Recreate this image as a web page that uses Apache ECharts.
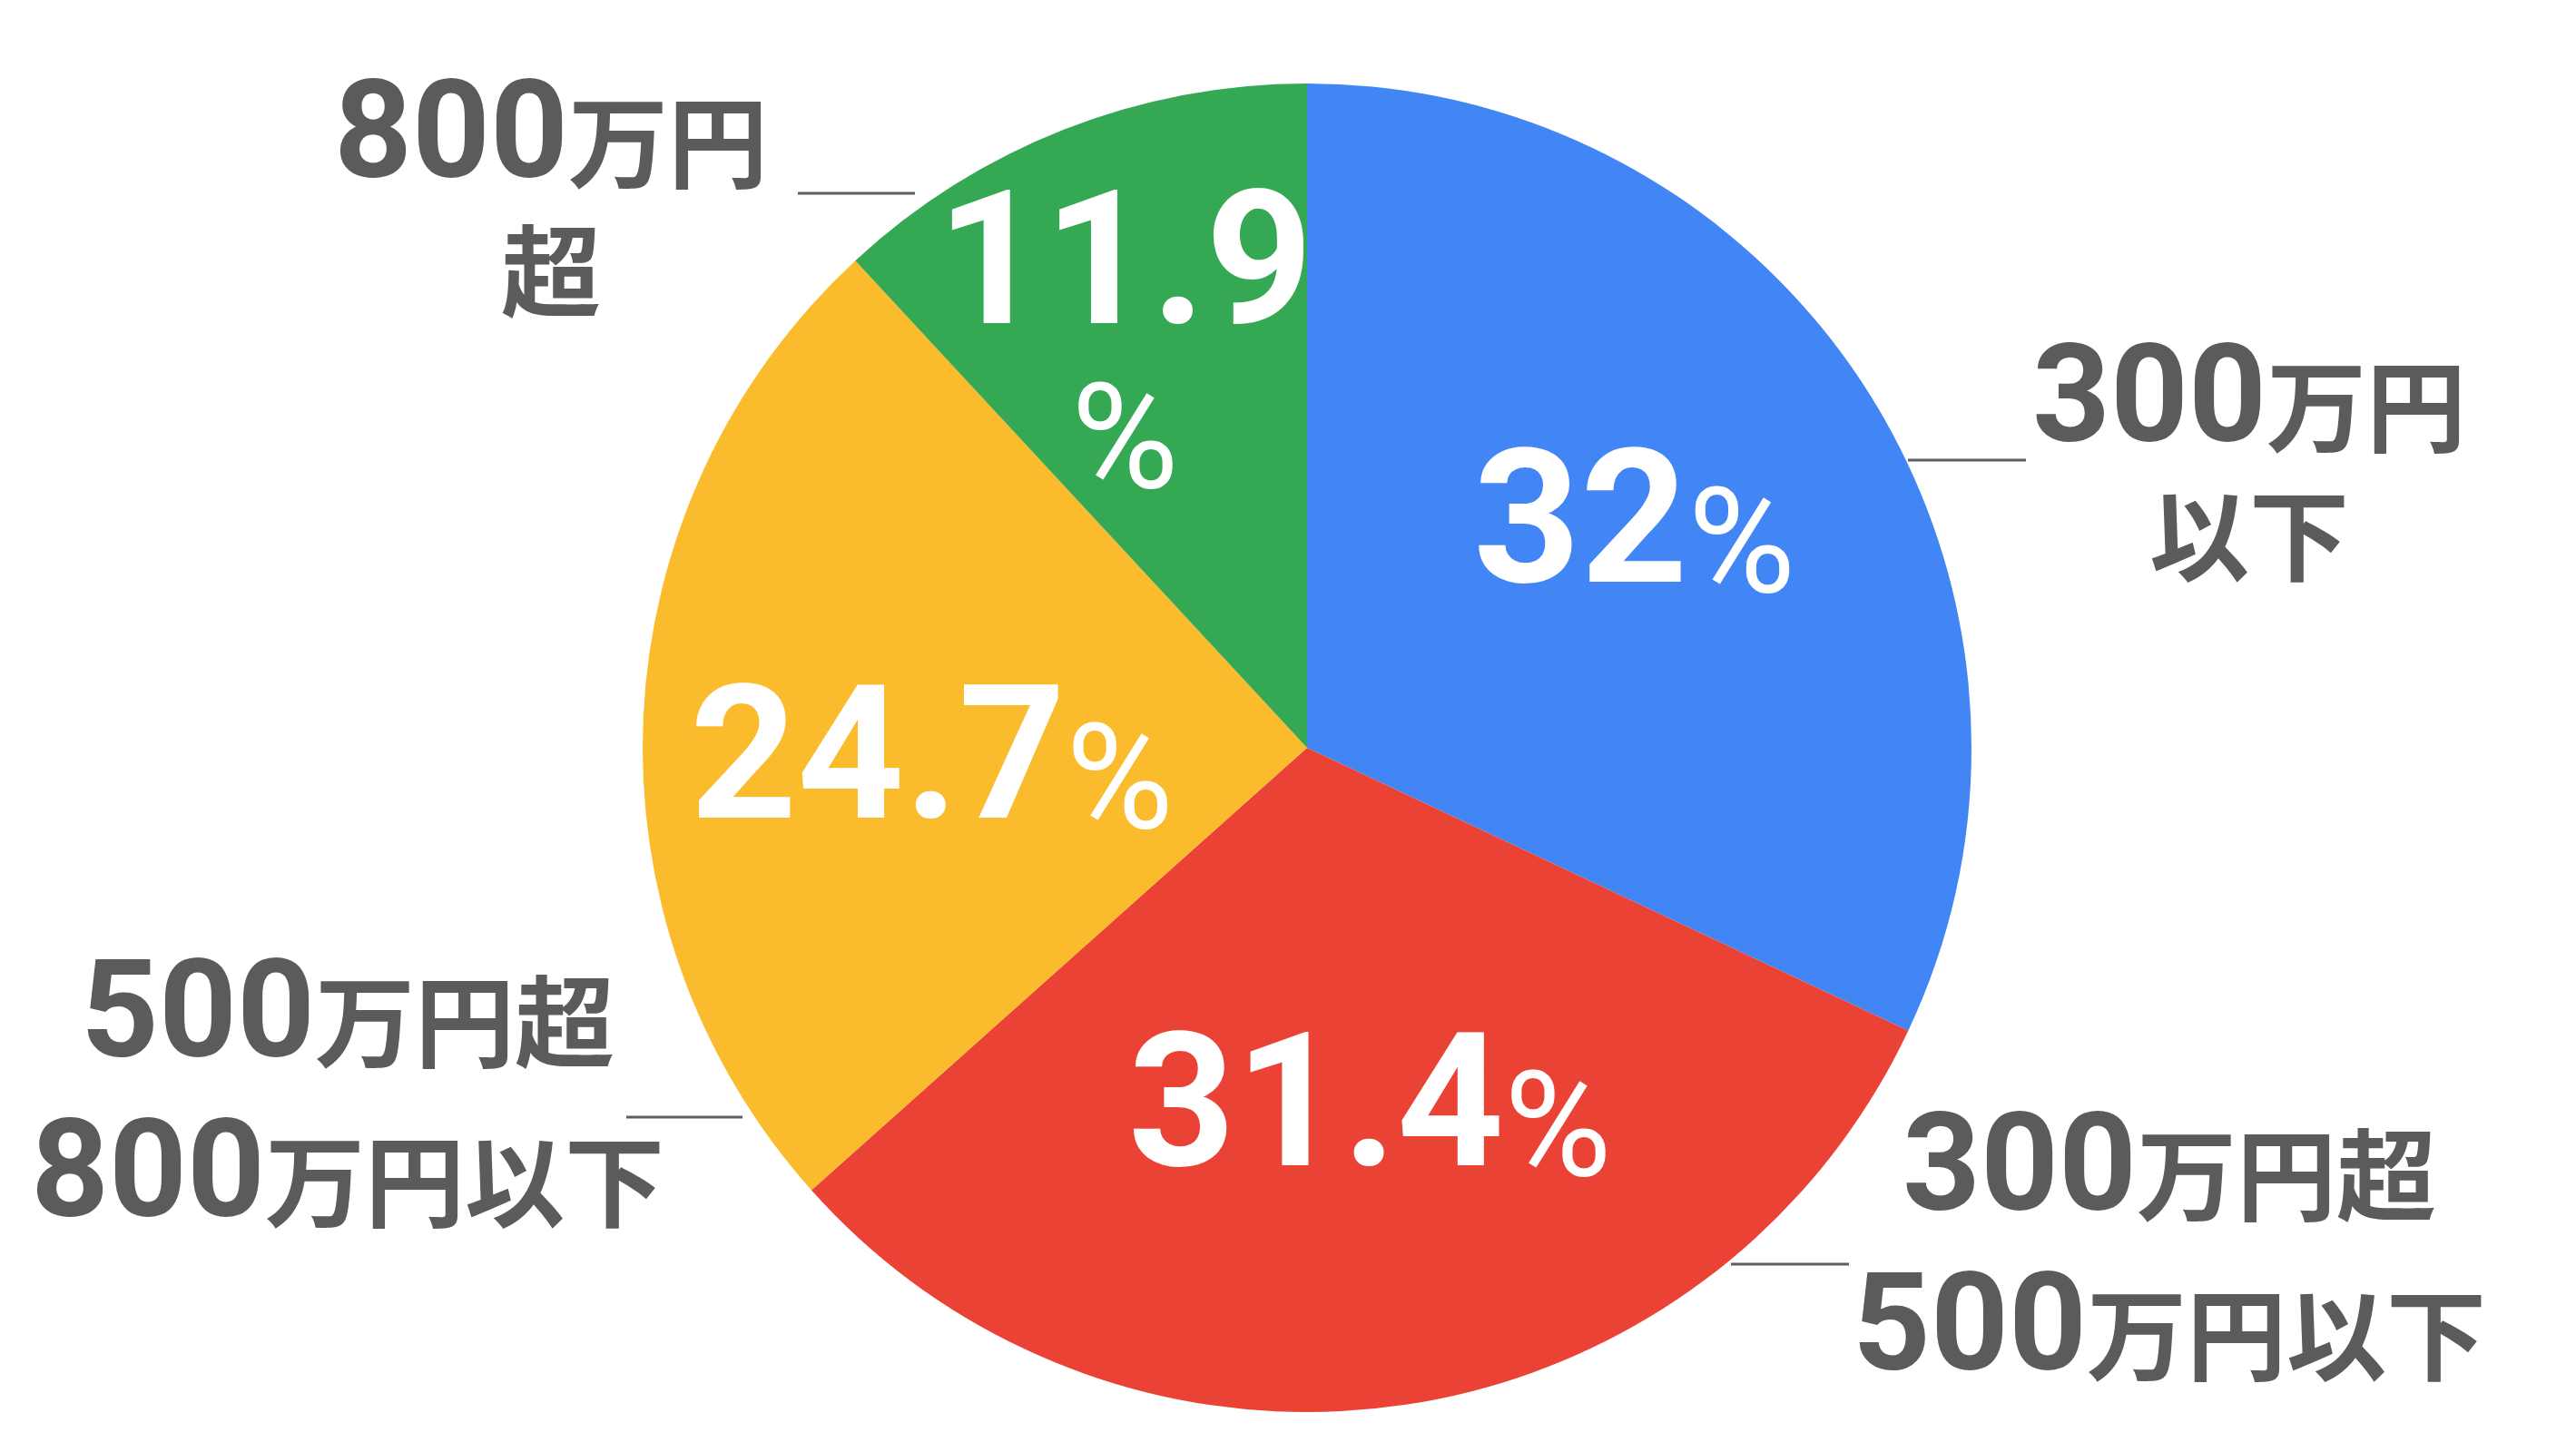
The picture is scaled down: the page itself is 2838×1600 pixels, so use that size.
<!DOCTYPE html>
<html>
<head>
<meta charset="utf-8">
<script src="https://cdn.jsdelivr.net/npm/echarts@6/dist/echarts.min.js"></script>
<style>
html,body{margin:0;padding:0;background:#ffffff;}
#chart{width:2838px;height:1600px;}
</style>
</head>
<body>
<div id="chart"></div>
<script>
// ---- data ----
const categories = ['300万円\n以下', '300万円超\n500万円以下', '500万円超\n800万円以下', '800万円\n超'];
const values = [32, 31.4, 24.7, 11.9];
const colors = ['#4285F4', '#EA4335', '#FABB2D', '#34A853'];

// ---- layout (positions of labels, not data) ----
const outerLayout = [
  { x: 2478, y: 502,  line: [2102, 2232, 507] },
  { x: 2390, y: 1383, line: [1907, 2037, 1393] },
  { x: 383,  y: 1214, line: [690, 818, 1231] },
  { x: 607,  y: 211,  line: [879, 1008, 213] }
];
const innerShift = [[49, -40], [16, 40], [-45, 40], [-66, -94]];
const innerBreak = [false, false, false, true];

const GRAY = '#5b5b5b';
const chart = echarts.init(document.getElementById('chart'), null, { renderer: 'canvas' });

const pieData = values.map((v, i) => ({ name: categories[i], value: v, itemStyle: { color: colors[i] } }));
const ghostData = values.map((v, i) => ({ name: categories[i], value: v }));

function catFormatter(p) {
  return p.name.split('\n').map(line =>
    line.replace(/(\d+)/g, '{d|$1}').replace(/([^\x00-\x7F]+)/g, '{k|$1}')
  ).join('\n');
}

chart.setOption({
  backgroundColor: '#ffffff',
  animation: false,
  series: [
    {
      type: 'pie',
      center: ['50.74%', '51.5%'],
      radius: 732,
      startAngle: 90,
      clockwise: true,
      avoidLabelOverlap: false,
      data: pieData,
      itemStyle: { borderWidth: 0 },
      emphasis: { disabled: true },
      label: {
        show: true,
        position: 'inside',
        overflow: 'none',
        formatter: p => '{n|' + p.value + '}' + (innerBreak[p.dataIndex] ? '\n' : '') + '{p|%}',
        rich: {
          n: { fontFamily: 'Roboto', fontWeight: 'bold', fontSize: 206, color: '#ffffff', lineHeight: 212, verticalAlign: 'bottom' },
          p: { fontFamily: 'Roboto', fontWeight: 'normal', fontSize: 162, color: '#ffffff', lineHeight: 170, verticalAlign: 'bottom' }
        }
      },
      labelLine: { show: false },
      labelLayout: p => ({ dx: innerShift[p.dataIndex][0], dy: innerShift[p.dataIndex][1] })
    },
    {
      type: 'pie',
      center: ['50.74%', '51.5%'],
      radius: 732,
      startAngle: 90,
      clockwise: true,
      silent: true,
      avoidLabelOverlap: false,
      data: ghostData,
      itemStyle: { color: 'rgba(0,0,0,0)', borderWidth: 0 },
      emphasis: { disabled: true },
      label: {
        show: true,
        position: 'outside',
        overflow: 'none',
        align: 'center',
        formatter: catFormatter,
        rich: {
          d: { fontFamily: 'Roboto', fontWeight: 'bold', fontSize: 150, color: GRAY, lineHeight: 176, verticalAlign: 'middle' },
          k: { fontFamily: 'Noto Sans CJK JP', fontWeight: 'bold', fontSize: 110, color: GRAY, lineHeight: 108, verticalAlign: 'middle' }
        }
      },
      labelLine: { show: true, smooth: false, lineStyle: { color: '#5f5f5f', width: 3 } },
      labelLayout: p => {
        const o = outerLayout[p.dataIndex];
        const [x1, x2, y] = o.line;
        return {
          x: o.x, y: o.y, align: 'center', verticalAlign: 'middle',
          labelLinePoints: [[x1, y], [(x1 + x2) / 2, y], [x2, y]]
        };
      }
    }
  ]
});
</script>
</body>
</html>
